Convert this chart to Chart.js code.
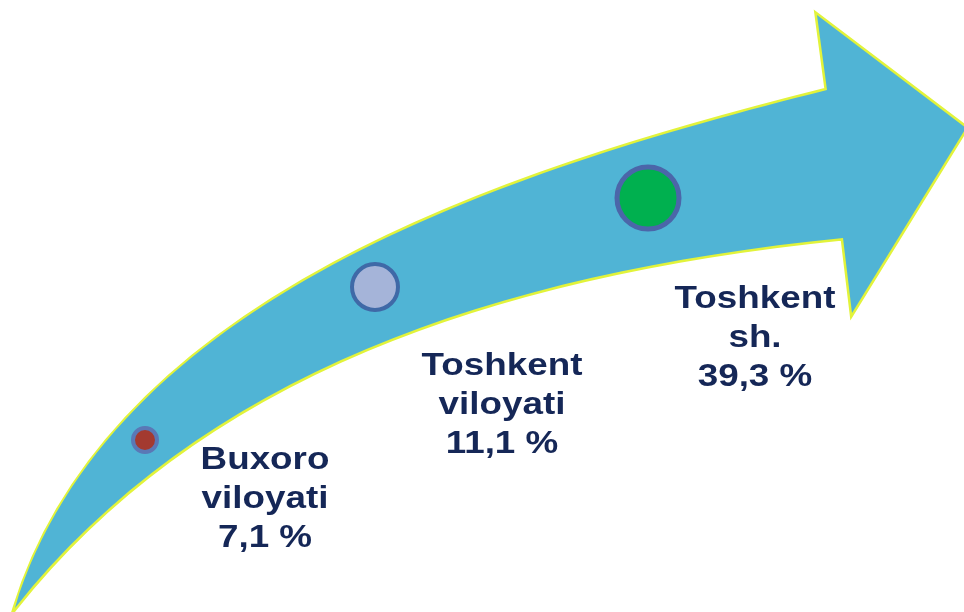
<!DOCTYPE html>
<html>
<head>
<meta charset="utf-8">
<title>Hududlar ulushi</title>
<script src="https://cdn.jsdelivr.net/npm/chart.js@4.4.1/dist/chart.umd.min.js"></script>
<style>
    html, body { margin: 0; padding: 0; background: #ffffff; }
    #wrap { width: 964px; height: 612px; position: relative; }
</style>
</head>
<body>
<div id="wrap"><canvas id="arrowChart"></canvas></div>
<script>
// values
const regionNames = [['Buxoro', 'viloyati'], ['Toshkent', 'viloyati'], ['Toshkent', 'sh.']];
const shares = [7.1, 11.1, 39.3];

// where each region sits along the arrow (axis units, 0..964 x 0..612)
const trackX = [145, 375, 648];
const trackY = [440, 287, 198];
const labelX = [265, 502, 755];
const labelY = [469, 375, 308];

// arrow outline in axis units: two bezier edges and the head
const upperEdge = [[15, 608], [110, 300], [500, 172], [827, 90]];
const arrowHead = [[817, 15], [966, 128], [852, 313], [843, 238]];
const lowerEdge = [[843, 238], [493, 273], [200, 375], [15, 608]];

const dotFill = ['#a33a30', '#a5b4d9', '#00b04f'];
const dotBorder = ['#5a78b6', '#3f69a7', '#4b66a9'];
const dotRadius = [12, 23, 31];
const dotBorderWidth = [4, 4, 5];

function fmt(v) {
    return v.toFixed(1).replace('.', ',') + ' %';
}

const arrowPlugin = {
    id: 'arrowPlugin',
    beforeDatasetsDraw(chart) {
        const { ctx, scales: { x, y } } = chart;
        const px = p => [x.getPixelForValue(p[0]), y.getPixelForValue(p[1])];

        function bezier(points, first) {
            const [a, b, c, d] = points.map(px);
            if (first) ctx.moveTo(a[0], a[1]);
            else ctx.lineTo(a[0], a[1]);
            ctx.bezierCurveTo(b[0], b[1], c[0], c[1], d[0], d[1]);
        }

        ctx.save();
        ctx.beginPath();
        bezier(upperEdge, true);
        arrowHead.forEach(p => {
            const q = px(p);
            ctx.lineTo(q[0], q[1]);
        });
        bezier(lowerEdge, false);
        ctx.closePath();
        ctx.lineJoin = 'miter';
        ctx.lineWidth = 5;
        ctx.strokeStyle = '#e2f33a';
        ctx.stroke();
        ctx.fillStyle = '#50b4d5';
        ctx.fill();
        ctx.restore();
    },
    afterDatasetsDraw(chart) {
        const { ctx, scales: { x, y } } = chart;
        ctx.save();
        ctx.fillStyle = '#152757';
        ctx.font = 'bold 32px "Liberation Sans", Arial, sans-serif';
        ctx.textAlign = 'center';
        ctx.textBaseline = 'alphabetic';
        shares.forEach((v, i) => {
            const lines = [...regionNames[i], fmt(v)];
            const cx = x.getPixelForValue(labelX[i]);
            const top = y.getPixelForValue(labelY[i]);
            lines.forEach((line, j) => {
                ctx.save();
                ctx.translate(cx, top + j * 39);
                ctx.scale(1.15, 1);
                ctx.fillText(line, 0, 0);
                ctx.restore();
            });
        });
        ctx.restore();
    }
};

const ctx = document.getElementById('arrowChart').getContext('2d');
new Chart(ctx, {
    type: 'bubble',
    data: {
        datasets: [{
            label: 'Ulush (%)',
            data: shares.map((v, i) => ({ x: trackX[i], y: trackY[i], r: dotRadius[i], v: v })),
            backgroundColor: dotFill,
            borderColor: dotBorder,
            borderWidth: dotBorderWidth,
            hoverRadius: 0,
            clip: false
        }]
    },
    options: {
        responsive: true,
        maintainAspectRatio: false,
        animation: false,
        layout: { padding: 0, autoPadding: false },
        plugins: {
            legend: { display: false },
            tooltip: { enabled: false },
            title: { display: false }
        },
        scales: {
            x: { type: 'linear', min: 0, max: 964, display: false },
            y: { type: 'linear', min: 0, max: 612, reverse: true, display: false }
        }
    },
    plugins: [arrowPlugin]
});
</script>
</body>
</html>
